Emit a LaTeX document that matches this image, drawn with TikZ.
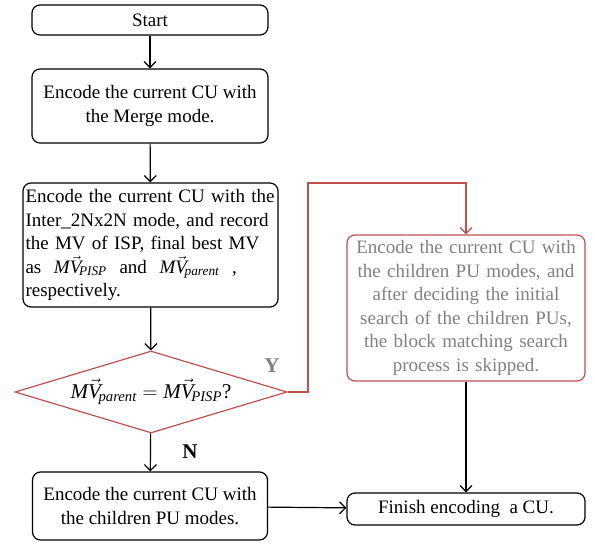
\documentclass[tikz,border=0pt]{standalone}
\usepackage{amsmath,amssymb}
\usepackage{fontspec}
\setmainfont{Liberation Serif}
\usepackage{tikz}
\usetikzlibrary{
	shapes.geometric,
	arrows.meta,
	calc}

\definecolor{flowred}{RGB}{192,80,77}
\definecolor{flowgray}{RGB}{128,128,128}
\newcommand{\mvec}[1]{\textit{M}\vec{\textit{V}}_{\!\textit{#1}}}

\begin{document}
\begin{tikzpicture}[x=1pt,y=-1pt,
    font=\fontsize{19}{23.5}\selectfont,
    box/.style={draw,line width=1.2pt,rounded corners=8pt,inner sep=0pt,align=center},
    redbox/.style={box,draw=flowred,text=flowgray},
    flow/.style={line width=1.2pt,-{Straight Barb[length=6pt,width=12pt]}},
    redflow/.style={flow,draw=flowred}]
  \useasboundingbox (0,0) rectangle (595,548);
    % Flow chart
  \node[box,minimum width=236pt,minimum height=30pt] (start) at (150,20) {Start};
  \node[box,minimum width=236pt,minimum height=74pt] (merge) at (150,106) {Encode the current CU with\\
    the Merge mode.};
  \node[box,minimum width=255pt,minimum height=124pt,text width=250pt,align=left] (inter) at (150.5,245)
    {Encode the current CU with the\\
    Inter\_2Nx2N mode, and record\\
    the MV of ISP, final best MV\\
    as \ $\mvec{PISP}$ \ and \ $\mvec{parent}$ \ ,\\
    respectively.};
  \node[diamond,draw=flowred,line width=1.2pt,aspect=3.3,inner sep=0pt,
    minimum width=272pt,minimum height=82pt,font=\fontsize{21}{24}\selectfont] (check) at (151,392)
    {$\mvec{parent}=\mvec{PISP}$?};
  \node[redbox,minimum width=238pt,minimum height=146pt,text width=234pt] (skip) at (466,308)
    {Encode the current CU with\\
    the children PU modes, and\\
    after deciding the initial\\
    search of the children PUs,\\
    the block matching search\\
    process is skipped.};
  \node[box,minimum width=235pt,minimum height=68pt] (child) at (150,506) {Encode the current CU with\\
    the children PU modes.};
  \node[box,minimum width=238pt,minimum height=32pt] (finish) at (466,509) {Finish encoding \ a CU.};
  \node[text=flowgray,font=\fontsize{21}{24}\selectfont\bfseries] (yes) at (272,366) {Y};
  \node[font=\fontsize{21}{24}\selectfont\bfseries] (no) at (190,452) {N};
  \coordinate (yturn) at (308,183);

  \draw [flow]    (start)      to (merge);
  \draw [flow]    (merge)      to (inter);
  \draw [flow]    (inter)      to (check);
  \draw [flow]    (check)      to (child);
  \draw [redflow] (check.east) -| (yturn) -| (skip.north);
  \draw [flow]    (skip)       to (finish);
  \draw [flow]    (child)      to (finish);

\end{tikzpicture}
\end{document}
